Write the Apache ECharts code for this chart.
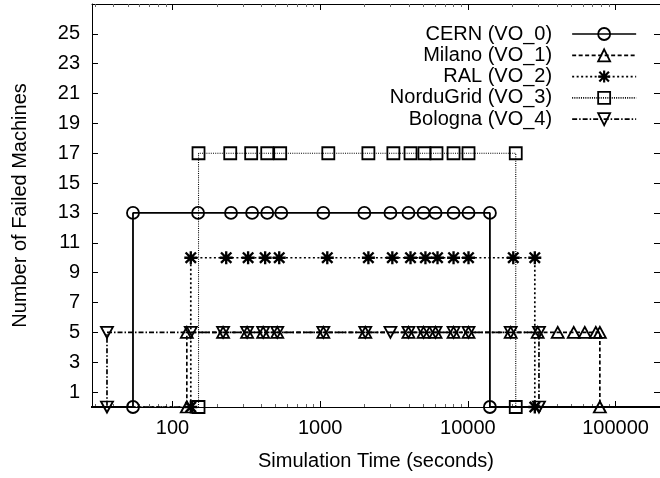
<!DOCTYPE html>
<html>
<head>
<meta charset="utf-8">
<script src="https://cdn.jsdelivr.net/npm/echarts@6/dist/echarts.min.js"></script>
<style>
  html, body { margin: 0; padding: 0; background: #fff; }
  #chart { width: 660px; height: 478px; }
</style>
</head>
<body>
<div id="chart"></div>
<script>
// Data (time in seconds, number of failed machines)
const cernTime     = [1, 54, 54, 149, 249, 346, 438, 545, 1050, 1990, 2990, 3960, 5010, 6040, 8000, 10100, 14100, 14100, 1e6]
const cernFailed   = [0, 0, 13, 13, 13, 13, 13, 13, 13, 13, 13, 13, 13, 13, 13, 13, 13, 0, 0]

const milanoTime   = [1, 125, 125, 220, 320, 411, 512, 1050, 2020, 3960, 5010, 6040, 8000, 10100, 19500, 29700, 40600, 52100, 61900, 73500, 78300, 78300, 1e6]
const milanoFailed = [0, 0, 5, 5, 5, 5, 5, 5, 5, 5, 5, 5, 5, 5, 5, 5, 5, 5, 5, 5, 5, 0, 0]

const ralTime      = [1, 133, 133, 231, 325, 424, 528, 1117, 2120, 3080, 4090, 5160, 6230, 8000, 10100, 20300, 28400, 28400, 1e6]
const ralFailed    = [0, 0, 10, 10, 10, 10, 10, 10, 10, 10, 10, 10, 10, 10, 10, 10, 10, 0, 0]

const norduTime    = [1, 150, 150, 246, 341, 438, 536, 1135, 2120, 3130, 4090, 5080, 6130, 8000, 10100, 21100, 21100, 1e6]
const norduFailed  = [0, 0, 17, 17, 17, 17, 17, 17, 17, 17, 17, 17, 17, 17, 17, 17, 0, 0]

const bolognaTime   = [1, 36, 36, 133, 220, 320, 411, 512, 1050, 2020, 2990, 3960, 5010, 6040, 8000, 10100, 19500, 30300, 30300, 1e6]
const bolognaFailed = [0, 0, 5, 5, 5, 5, 5, 5, 5, 5, 5, 5, 5, 5, 5, 5, 5, 5, 0, 0]

const seriesNames = ['CERN (VO_0)', 'Milano (VO_1)', 'RAL (VO_2)', 'NorduGrid (VO_3)', 'Bologna (VO_4)']

// Axis ticks
const xMajorTicks = [100, 1000, 10000, 100000]
const xMinorTicks = [30, 40, 50, 60, 70, 80, 90,
  200, 300, 400, 500, 600, 700, 800, 900,
  2000, 3000, 4000, 5000, 6000, 7000, 8000, 9000,
  20000, 30000, 40000, 50000, 60000, 70000, 80000, 90000]
const yTicks = [1, 3, 5, 7, 9, 11, 13, 15, 17, 19, 21, 23, 25]

const X_MIN = 28.5
const X_MAX = 200000
const Y_MIN = 0
const Y_MAX = 27

const font = 'Liberation Sans, Arial, Helvetica, sans-serif'

// asterisk marker (gnuplot point type 3)
const starPath = 'path://M0,4.1H10V5.9H0Z M4.1,0H5.9V10H4.1Z M1.64,0.36L9.64,8.36L8.36,9.64L0.36,1.64Z M8.36,0.36L9.64,1.64L1.64,9.64L0.36,8.36Z'

const zip = (xs, ys) => xs.map((x, i) => [x, ys[i]])

const hollow = { color: 'transparent', borderColor: '#000', borderWidth: 1.8 }

const logAxis = (position, ticks, tickLen, showLine, showLabel) => ({
  type: 'log',
  logBase: 10,
  position: position,
  min: X_MIN,
  max: X_MAX,
  splitLine: { show: false },
  axisLine: { show: showLine, onZero: false, lineStyle: { color: '#000', width: 1 } },
  axisTick: {
    show: true,
    inside: true,
    length: tickLen,
    customValues: ticks,
    lineStyle: { color: tickLen > 4 ? '#000' : '#666', width: 1 }
  },
  axisLabel: showLabel ? {
    show: true,
    customValues: ticks,
    margin: 11,
    color: '#000',
    fontFamily: font,
    fontSize: 20,
    formatter: v => String(Math.round(v))
  } : { show: false }
})

const chart = echarts.init(document.getElementById('chart'), null, { renderer: 'canvas' })

const option = {
  animation: false,
  backgroundColor: '#fff',
  grid: { left: 92, right: 0, top: 4, bottom: 71, containLabel: false },
  legend: {
    orient: 'vertical',
    right: 23,
    top: 24,
    padding: 0,
    align: 'right',
    itemWidth: 64,
    itemHeight: 15,
    itemGap: 1.3,
    selectedMode: false,
    data: seriesNames,
    lineStyle: { width: 1.7 },
    itemStyle: { borderWidth: 1.8 },
    textStyle: {
      color: '#000',
      fontFamily: font,
      fontSize: 20,
      padding: [0, 15, 0, 0]
    }
  },
  xAxis: [
    Object.assign(logAxis('bottom', xMajorTicks, 6, true, true), {
      name: 'Simulation Time (seconds)',
      nameLocation: 'middle',
      nameGap: 44,
      nameTextStyle: { color: '#000', fontFamily: font, fontSize: 20 }
    }),
    logAxis('bottom', xMinorTicks, 3, false, false),
    logAxis('top', xMajorTicks, 6, true, false),
    logAxis('top', xMinorTicks, 3, false, false)
  ],
  yAxis: [
    {
      type: 'value',
      position: 'left',
      min: Y_MIN,
      max: Y_MAX,
      splitLine: { show: false },
      axisLine: { show: true, onZero: false, lineStyle: { color: '#000', width: 1 } },
      axisTick: { show: true, inside: true, length: 6, customValues: yTicks, lineStyle: { color: '#000' } },
      axisLabel: { customValues: yTicks, margin: 12, color: '#000', fontFamily: font, fontSize: 20 },
      name: 'Number of Failed Machines',
      nameLocation: 'middle',
      nameGap: 62,
      nameTextStyle: { color: '#000', fontFamily: font, fontSize: 20 }
    },
    {
      type: 'value',
      position: 'right',
      min: Y_MIN,
      max: Y_MAX,
      splitLine: { show: false },
      axisLine: { show: true, onZero: false, lineStyle: { color: '#000', width: 1 } },
      axisTick: { show: true, inside: true, length: 6, customValues: yTicks, lineStyle: { color: '#000' } },
      axisLabel: { show: false }
    }
  ],
  series: [
    {
      name: seriesNames[0],
      type: 'line',
      clip: true,
      data: zip(cernTime, cernFailed),
      symbol: 'circle',
      symbolSize: 12,
      itemStyle: hollow,
      lineStyle: { color: '#000', width: 1.8, type: 'solid' }
    },
    {
      name: seriesNames[1],
      type: 'line',
      clip: true,
      data: zip(milanoTime, milanoFailed),
      symbol: 'triangle',
      symbolSize: [12, 11],
      itemStyle: hollow,
      lineStyle: { color: '#000', width: 1.7, type: [4, 2.5] }
    },
    {
      name: seriesNames[2],
      type: 'line',
      clip: true,
      data: zip(ralTime, ralFailed),
      symbol: starPath,
      symbolSize: 13,
      itemStyle: { color: '#000' },
      lineStyle: { color: '#000', width: 1.7, type: [2, 2.5] }
    },
    {
      name: seriesNames[3],
      type: 'line',
      clip: true,
      data: zip(norduTime, norduFailed),
      symbol: 'rect',
      symbolSize: 12,
      itemStyle: hollow,
      lineStyle: { color: '#000', width: 1.1, type: [1, 1.2] }
    },
    {
      name: seriesNames[4],
      type: 'line',
      clip: true,
      data: zip(bolognaTime, bolognaFailed),
      symbol: 'triangle',
      symbolRotate: 180,
      symbolSize: [12, 11],
      itemStyle: hollow,
      lineStyle: { color: '#000', width: 1.7, type: [5, 2, 1.5, 2] }
    }
  ]
}

chart.setOption(option)
</script>
</body>
</html>
